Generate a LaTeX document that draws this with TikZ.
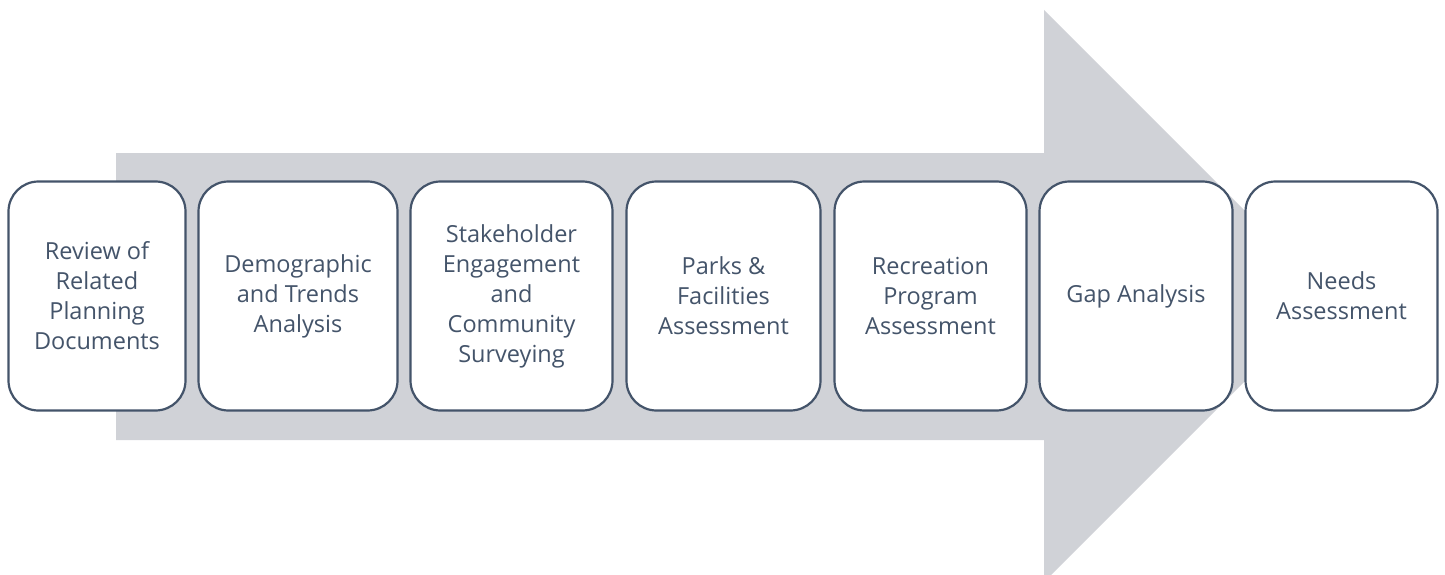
\documentclass[tikz,border=0pt]{standalone}
\usepackage{fontspec}
\setmainfont{Open Sans}
\definecolor{arrowgray}{HTML}{D0D2D7}
\definecolor{slate}{HTML}{44546A}

\begin{document}
\begin{tikzpicture}[x=1pt,y=-1pt,
    stepbox/.style={draw=slate, line width=2.2pt, fill=white, rounded corners=30pt,
        minimum height=229pt, align=center, text=slate, inner sep=0pt,
        font=\fontsize{23.5}{30}\selectfont}]
\useasboundingbox (0,0) rectangle (1445,575);
% big arrow behind the steps
\fill[arrowgray] (116,153) -- (1044,153) -- (1044,10) -- (1330,296) -- (1044,582) -- (1044,440) -- (116,440) -- cycle;
% steps
\node[stepbox, minimum width=177pt] (review) at (97,296) {Review of\\Related\\Planning\\Documents};
\node[stepbox, minimum width=199pt] (demo) at (298,296) {Demographic\\and Trends\\Analysis};
\node[stepbox, minimum width=202pt] (stake) at (511.5,296) {Stakeholder\\Engagement\\and\\Community\\Surveying};
\node[stepbox, minimum width=194pt] (parks) at (723.5,296) {Parks \&\\Facilities\\Assessment};
\node[stepbox, minimum width=192pt] (recr) at (930.5,296) {Recreation\\Program\\Assessment};
\node[stepbox, minimum width=193pt] (gap) at (1136,296) {Gap Analysis};
\node[stepbox, minimum width=192pt] (needs) at (1341.5,296) {Needs\\Assessment};
\end{tikzpicture}
\end{document}
